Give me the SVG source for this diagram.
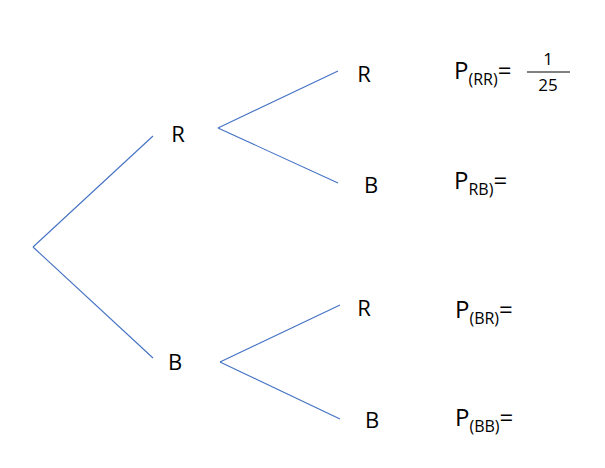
<svg xmlns="http://www.w3.org/2000/svg" width="605" height="468" viewBox="0 0 605 468">
<style>
.c{stroke:#4472c4;stroke-width:1.1;fill:none}
.t{font-family:"Open Sans","Liberation Sans",sans-serif;font-size:22px;fill:#000;text-anchor:middle}
.p{font-family:"Open Sans","Liberation Sans",sans-serif;font-size:24px;fill:#000}
.s{font-size:16px}
.f{font-family:"Open Sans","Liberation Sans",sans-serif;font-size:17px;fill:#000;text-anchor:middle}
</style>
<rect width="605" height="468" fill="#fff"/>
<g id="connectors">
<line class="c" x1="33" y1="247" x2="153" y2="136"/>
<line class="c" x1="33" y1="247" x2="153" y2="358"/>
<line class="c" x1="218" y1="128" x2="338" y2="71"/>
<line class="c" x1="218" y1="128" x2="338" y2="183"/>
<line class="c" x1="220" y1="362" x2="340" y2="305"/>
<line class="c" x1="220" y1="362" x2="340" y2="419"/>
</g>
<g id="n-R1"><text class="t" x="178" y="142">R</text></g>
<g id="n-B1"><text class="t" x="175" y="370">B</text></g>
<g id="n-RR"><text class="t" x="364" y="82">R</text></g>
<g id="n-RB"><text class="t" x="371" y="193">B</text></g>
<g id="n-BR"><text class="t" x="364" y="316">R</text></g>
<g id="n-BB"><text class="t" x="372" y="428">B</text></g>
<g id="p-RR">
<text class="p" x="454" y="79">P<tspan class="s" dy="6">(RR)</tspan><tspan dy="-6">=</tspan></text>
<text class="f" x="548" y="65">1</text>
<line x1="527" y1="72" x2="570" y2="72" stroke="#000" stroke-width="1"/>
<text class="f" x="548" y="91">25</text>
</g>
<g id="p-RB"><text class="p" x="454" y="189">P<tspan class="s" dy="6">RB)</tspan><tspan dy="-6">=</tspan></text></g>
<g id="p-BR"><text class="p" x="455" y="318">P<tspan class="s" dy="6">(BR)</tspan><tspan dy="-6">=</tspan></text></g>
<g id="p-BB"><text class="p" x="455" y="426">P<tspan class="s" dy="6">(BB)</tspan><tspan dy="-6">=</tspan></text></g>
</svg>
